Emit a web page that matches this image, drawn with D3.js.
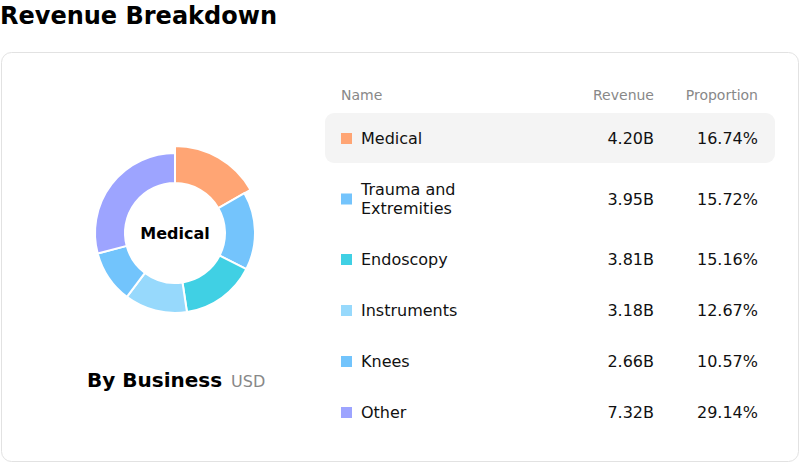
<!DOCTYPE html>
<html><head><meta charset="utf-8">
<script src="https://cdn.jsdelivr.net/npm/d3@7"></script>
<style>
html,body{margin:0;padding:0;background:#fff;}
svg{display:block;font-family:"DejaVu Sans",sans-serif;}
</style></head>
<body><svg id="c" width="800" height="463"></svg>
<script>
const categories = ["Medical", "Trauma and Extremities", "Endoscopy", "Instruments", "Knees", "Other"];
const nameLines = [["Medical"], ["Trauma and", "Extremities"], ["Endoscopy"], ["Instruments"], ["Knees"], ["Other"]];
const revenue = [4.20, 3.95, 3.81, 3.18, 2.66, 7.32];
const revenueLabels = ["4.20B", "3.95B", "3.81B", "3.18B", "2.66B", "7.32B"];
const proportionLabels = ["16.74%", "15.72%", "15.16%", "12.67%", "10.57%", "29.14%"];
const colors = ["#FFA574", "#74C4FC", "#40D0E4", "#97D9FC", "#72C4FC", "#9DA4FF"];
const highlighted = 0;

const svg = d3.select("#c");

svg.append("text").attr("x", 0).attr("y", 24).attr("font-size", 24).attr("font-weight", "bold")
  .attr("fill", "#000").text("Revenue Breakdown");

svg.append("rect").attr("x", 1.5).attr("y", 52.5).attr("width", 797).attr("height", 409)
  .attr("rx", 10).attr("fill", "#fff").attr("stroke", "#e2e2e2");

// Donut
const cx = 175, cy = 233, rIn = 50, rOut = 80, rHi = 87;
const pie = d3.pie().sort(null).value(d => d)(revenue);
const arc = d3.arc().innerRadius(rIn);
const g = svg.append("g").attr("transform", `translate(${cx},${cy})`);
g.selectAll("path").data(pie).join("path")
  .attr("d", d => arc.outerRadius(d.index === highlighted ? rHi : rOut)(d))
  .attr("fill", (d, i) => colors[i]).attr("stroke", "#fff").attr("stroke-width", 2);
g.append("text").attr("text-anchor", "middle").attr("dy", "0.35em").attr("font-size", 16)
  .attr("font-weight", "bold").attr("fill", "#000").text(categories[highlighted]);

svg.append("text").attr("x", 87).attr("y", 387).attr("font-size", 20).attr("font-weight", "bold")
  .attr("fill", "#000").text("By Business")
  .append("tspan").attr("dx", 9).attr("font-size", 16).attr("font-weight", "normal")
  .attr("fill", "#888").text("USD");

// Table
const headY = 100;
svg.append("text").attr("x", 341).attr("y", headY).attr("font-size", 14).attr("fill", "#888").text("Name");
svg.append("text").attr("x", 654).attr("y", headY).attr("font-size", 14).attr("fill", "#888").attr("text-anchor", "end").text("Revenue");
svg.append("text").attr("x", 758).attr("y", headY).attr("font-size", 14).attr("fill", "#888").attr("text-anchor", "end").text("Proportion");

const baseH = 51, lineH = 19;
let y0 = 113;
const rows = [];
nameLines.forEach((lines, i) => {
  const h = baseH + (lines.length - 1) * lineH;
  rows.push({ i, top: y0, h, lines });
  y0 += h;
});

rows.forEach(r => {
  const gc = svg.append("g");
  if (r.i === highlighted) {
    gc.append("rect").attr("x", 325).attr("y", r.top).attr("width", 450).attr("height", r.h - 1)
      .attr("rx", 9).attr("fill", "#f4f4f4");
  }
  const mid = r.top + r.h / 2;
  gc.append("rect").attr("x", 341).attr("y", mid - 5.5).attr("width", 11).attr("height", 11).attr("fill", colors[r.i]);
  const n = r.lines.length;
  r.lines.forEach((l, k) => {
    gc.append("text").attr("x", 361).attr("y", mid + (k - (n - 1) / 2) * 19).attr("dy", "0.35em")
      .attr("font-size", 16).attr("fill", "#111").text(l);
  });
  gc.append("text").attr("x", 654).attr("y", mid).attr("dy", "0.35em").attr("text-anchor", "end")
    .attr("font-size", 16).attr("fill", "#111").text(revenueLabels[r.i]);
  gc.append("text").attr("x", 758).attr("y", mid).attr("dy", "0.35em").attr("text-anchor", "end")
    .attr("font-size", 16).attr("fill", "#111").text(proportionLabels[r.i]);
});
</script></body></html>
